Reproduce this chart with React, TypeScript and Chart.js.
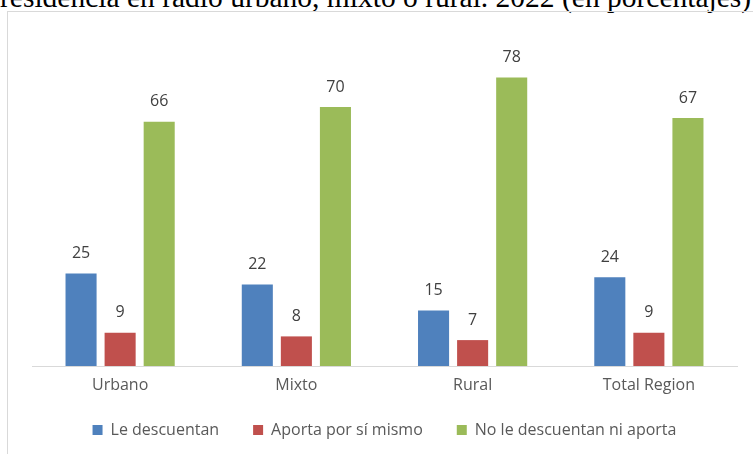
import React, { useEffect, useRef } from "react";
import { Chart, registerables } from "chart.js";

Chart.register(...registerables);

const categories = ["Urbano", "Mixto", "Rural", "Total Region"];
const seriesNames = ["Le descuentan", "Aporta por sí mismo", "No le descuentan ni aporta"];
const leDescuentan = [25, 22, 15, 24];
const aportaPorSiMismo = [9, 8, 7, 9];
const noLeDescuentan = [66, 70, 78, 67];
const seriesColors = ["#4f81bd", "#c0504d", "#9bbb59"];
const titleText = "residencia en radio urbano, mixto o rural. 2022 (en porcentajes)";

const FONT = "'Open Sans', 'Noto Sans', sans-serif";

const dataLabelPlugin = {
  id: "dataLabels",
  afterDatasetsDraw(chart: any) {
    const { ctx } = chart;
    ctx.save();
    ctx.font = `16px ${FONT}`;
    ctx.fillStyle = "#404040";
    ctx.textAlign = "center";
    ctx.textBaseline = "middle";
    chart.data.datasets.forEach((ds: any, i: number) => {
      const meta = chart.getDatasetMeta(i);
      meta.data.forEach((bar: any, j: number) => {
        ctx.fillText(String(ds.data[j]), bar.x, bar.y - 20);
      });
    });
    ctx.restore();
  },
};

const legendShiftPlugin = {
  id: "legendShift",
  afterLayout(chart: any) {
    const lg = chart.legend;
    if (lg) {
      lg.top -= 10;
      lg.bottom -= 10;
    }
  },
};

export default function App() {
  const ref = useRef<HTMLCanvasElement>(null);
  useEffect(() => {
    document.body.style.margin = "0";
    const chart = new Chart(ref.current as HTMLCanvasElement, {
      type: "bar",
      data: {
        labels: categories,
        datasets: [leDescuentan, aportaPorSiMismo, noLeDescuentan].map((d, i) => ({
          label: seriesNames[i],
          data: d,
          backgroundColor: seriesColors[i],
          borderWidth: 0,
          categoryPercentage: 0.665,
          barPercentage: 0.795,
        })),
      },
      options: {
        animation: false,
        responsive: false,
        maintainAspectRatio: false,
        layout: { padding: { left: 32, right: 16, top: 33, bottom: -4 } },
        plugins: {
          tooltip: { enabled: false },
          title: { display: false },
          legend: {
            position: "bottom",
            labels: {
              boxWidth: 10,
              boxHeight: 10,
              padding: 34,
              color: "#595959",
              font: { family: FONT, size: 16 },
            },
          },
        },
        scales: {
          x: {
            grid: { display: false, drawTicks: false },
            border: { display: true, color: "#d9d9d9", width: 1 },
            ticks: { color: "#595959", padding: 10, font: { family: FONT, size: 16 } },
            afterFit: (s: any) => {
              s.height = 32;
            },
          },
          y: {
            display: false,
            min: 0,
            max: 90,
          },
        },
      },
      plugins: [dataLabelPlugin, legendShiftPlugin],
    });
    return () => chart.destroy();
  }, []);

  return (
    <div style={{ position: "relative", width: 753, height: 454, overflow: "hidden", background: "#fff" }}>
      <div
        style={{
          position: "absolute",
          left: 0,
          top: -18,
          fontFamily: "'Liberation Serif', 'Times New Roman', serif",
          fontSize: 29.5,
          lineHeight: "30px",
          whiteSpace: "nowrap",
          color: "#000",
        }}
      >
        {titleText}
      </div>
      <div
        style={{
          position: "absolute",
          left: 7,
          top: 11,
          width: 780,
          height: 480,
          border: "1px solid #d9d9d9",
        }}
      />
      <canvas ref={ref} width={753} height={454} style={{ position: "absolute", left: 0, top: 0 }} />
    </div>
  );
}
